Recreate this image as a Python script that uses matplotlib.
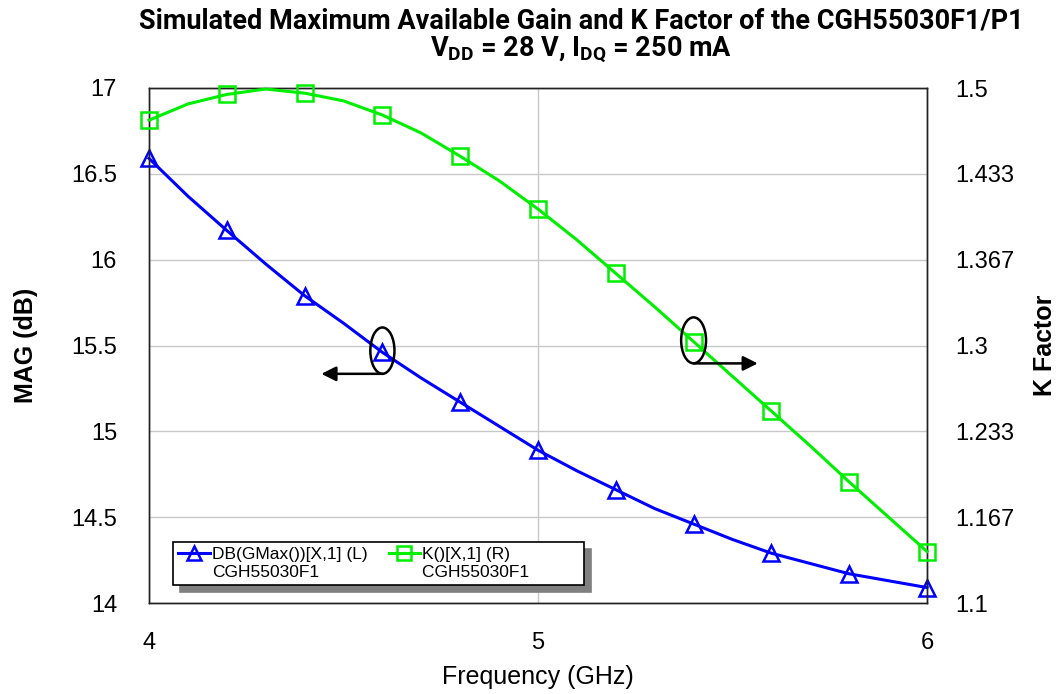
import matplotlib
matplotlib.use('Agg')
import matplotlib.pyplot as plt
from matplotlib.patches import Ellipse
from matplotlib.lines import Line2D

plt.rcParams['font.family'] = ['Liberation Sans', 'DejaVu Sans']
plt.rcParams['mathtext.fontset'] = 'custom'
plt.rcParams['mathtext.rm'] = 'Roboto:bold'
plt.rcParams['mathtext.it'] = 'Roboto:bold'
plt.rcParams['mathtext.bf'] = 'Roboto:bold'
plt.rcParams['mathtext.default'] = 'rm'

# frequency (GHz), markers every 0.2 GHz
freq = [4.0, 4.1, 4.2, 4.3, 4.4, 4.5, 4.6, 4.7, 4.8, 4.9, 5.0,
        5.1, 5.2, 5.3, 5.4, 5.5, 5.6, 5.7, 5.8, 5.9, 6.0]
mag_db = [16.59, 16.37, 16.17, 15.975, 15.79, 15.63, 15.46, 15.31, 15.17, 15.03, 14.89,
          14.77, 14.66, 14.55, 14.46, 14.37, 14.29, 14.23, 14.17, 14.13, 14.09]
k_factor = [1.475, 1.4876, 1.495, 1.4992, 1.496, 1.490, 1.479, 1.465, 1.447, 1.428, 1.406,
            1.382, 1.356, 1.330, 1.303, 1.276, 1.249, 1.222, 1.194, 1.167, 1.140]

left_ticks = [14, 14.5, 15, 15.5, 16, 16.5, 17]
left_labels = ['14', '14.5', '15', '15.5', '16', '16.5', '17']
right_ticks = [1.1, 1.1667, 1.2333, 1.3, 1.3667, 1.4333, 1.5]
right_labels = ['1.1', '1.167', '1.233', '1.3', '1.367', '1.433', '1.5']
x_ticks = [4, 5, 6]

BLUE = '#0000ff'
GREEN = '#00ee00'

fig = plt.figure(figsize=(10.6, 6.94), dpi=100)
ax = fig.add_axes([149 / 1060, 1 - 603 / 694, 778 / 1060, 515 / 694])
ax2 = ax.twinx()

ax.plot(freq, mag_db, color=BLUE, lw=2.2, marker='^', markevery=2, ms=11,
        mfc='none', mec=BLUE, mew=1.8, clip_on=False, zorder=3)
ax2.plot(freq, k_factor, color=GREEN, lw=2.2, marker='s', markevery=2, ms=11,
         mfc='none', mec=GREEN, mew=1.8, clip_on=False, zorder=3)

ax.set_xlim(4, 6)
ax.set_ylim(14, 17)
ax2.set_ylim(1.1, 1.5)
ax.set_xticks(x_ticks)
ax.set_xticklabels([str(t) for t in x_ticks])
ax.set_yticks(left_ticks)
ax.set_yticklabels(left_labels)
ax2.set_yticks(right_ticks)
ax2.set_yticklabels(right_labels)

ax.tick_params(axis='x', length=0, pad=21, labelsize=17)
ax.tick_params(axis='y', length=0, pad=23, labelsize=17)
ax2.tick_params(axis='y', length=0, pad=20, labelsize=17)

ax.grid(True, color='#c8c8c8', lw=1)
for a in (ax, ax2):
    for s in a.spines.values():
        s.set_color('#222222')
        s.set_linewidth(1)

ax.set_xlabel('Frequency (GHz)', fontsize=18, labelpad=8)
ax.set_ylabel('MAG (dB)', fontsize=18, fontweight='bold', labelpad=24)
ax2.set_ylabel('K Factor', fontsize=18, fontweight='bold', labelpad=14)

# circle + arrow annotations
i_mag = freq.index(4.6)
ax.add_patch(Ellipse((freq[i_mag], mag_db[i_mag] + 0.01), 0.062, 0.27,
                     fill=False, ec='black', lw=1.8, zorder=4))
y_arr = mag_db[i_mag] + 0.01 - 0.135
ax.annotate('', xy=(freq[i_mag] - 0.157, y_arr), xytext=(freq[i_mag], y_arr),
            arrowprops=dict(arrowstyle='-|>', color='black', lw=1.8,
                            mutation_scale=22, shrinkA=0, shrinkB=0))

i_k = freq.index(5.4)
ax2.add_patch(Ellipse((freq[i_k], k_factor[i_k] + 0.001), 0.064, 0.0357,
                      fill=False, ec='black', lw=1.8, zorder=4))
y_arr2 = k_factor[i_k] + 0.001 - 0.0179
ax2.annotate('', xy=(freq[i_k] + 0.165, y_arr2), xytext=(freq[i_k], y_arr2),
             arrowprops=dict(arrowstyle='-|>', color='black', lw=1.8,
                             mutation_scale=22, shrinkA=0, shrinkB=0))

# legend: handle on the first line, device name on a second row
blank = Line2D([], [], lw=0, marker=None)
handles = [
    Line2D([], [], color=BLUE, lw=2.2, marker='^', ms=10, mfc='none', mew=1.8),
    blank,
    Line2D([], [], color=GREEN, lw=2.2, marker='s', ms=10, mfc='none', mew=1.8),
    blank,
]
labels = ['DB(GMax())[X,1] (L)', 'CGH55030F1',
          'K()[X,1] (R)' + ' ' * 13, 'CGH55030F1' + ' ' * 10]
leg = ax2.legend(handles, labels, ncol=2, loc='lower left',
                 bbox_to_anchor=(0.031, 0.035), fontsize=12.5, frameon=True,
                 fancybox=False, shadow={'color': '#808080', 'alpha': 1.0, 'ox': 5, 'oy': -5},
                 edgecolor='black', handlelength=1.8, handletextpad=0.15,
                 columnspacing=1.2, borderpad=0.3, labelspacing=0.15, borderaxespad=0)
leg.get_frame().set_linewidth(1.2)

fig.text(0.548, 1 - 29 / 694, 'Simulated Maximum Available Gain and K Factor of the CGH55030F1/P1',
         ha='center', va='baseline', fontsize=19.5, fontweight='bold', family='Roboto')
fig.text(0.548, 1 - 56 / 694, r'$V_{DD}$ = 28 V, $I_{DQ}$ = 250 mA',
         ha='center', va='baseline', fontsize=19.5, fontweight='bold', family='Roboto')

fig.savefig('out.png', dpi=100)
